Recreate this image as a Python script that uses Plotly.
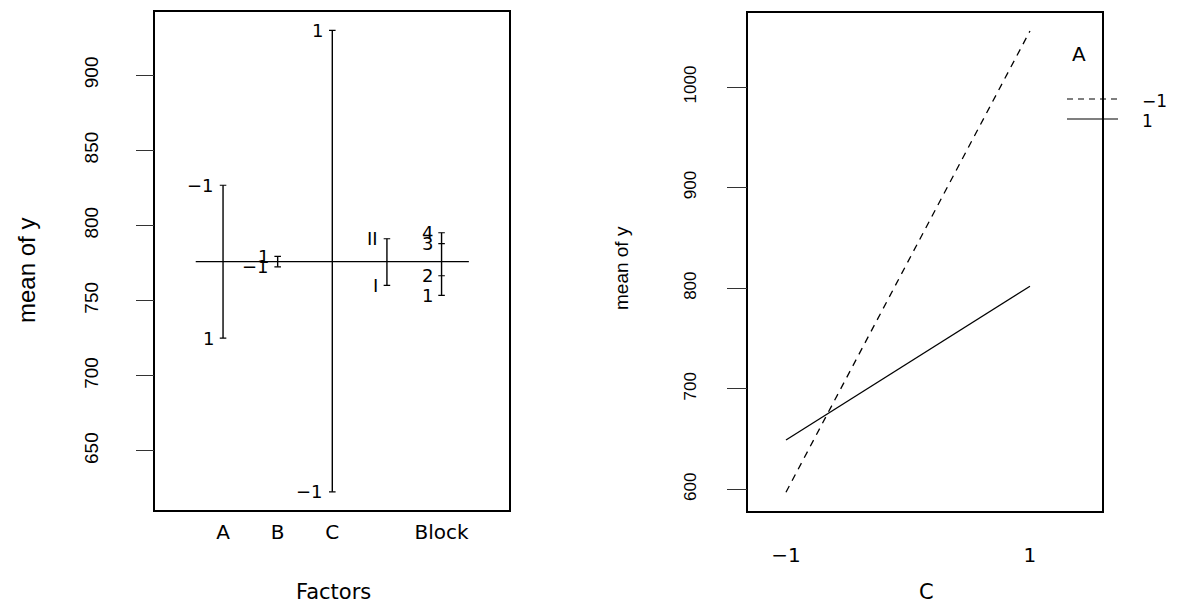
import plotly.graph_objects as go

# ---------------- data ----------------
# Left panel: plot.design of mean of y by factor levels
factor_names = ["A", "B", "C", "", "Block"]
A_levels = ["−1", "1"]
A_means = [826.8, 725.1]
B_levels = ["−1", "1"]
B_means = [772.5, 779.5]
C_levels = ["−1", "1"]
C_means = [622.8, 929.8]
D_levels = ["I", "II"]
D_means = [760.2, 791.2]
Block_levels = ["1", "2", "3", "4"]
Block_means = [753.5, 766.6, 787.9, 795.2]
grand_mean = 776.0
left_yticks = [650, 700, 750, 800, 850, 900]

# Right panel: interaction plot, C on x, trace factor A
C_values = [-1, 1]
C_labels = ["−1", "1"]
A_minus1_means = [597.1, 1055.8]
A_plus1_means = [649.1, 802.0]
right_yticks = [600, 700, 800, 900, 1000]
legend_title = "A"
legend_labels = ["−1", "1"]

# ---------------- layout helpers ----------------
W, H = 1177, 604
def px(x):
    return x / W
def py(y):
    return 1 - y / H

FONT = "Liberation Sans, Arial, Helvetica, sans-serif"
HFONT = "DejaVu Sans, Liberation Sans, sans-serif"

fig = go.Figure()

# ---------------- left panel ----------------
groups = [
    (A_levels, A_means),
    (B_levels, B_means),
    (C_levels, C_means),
    (D_levels, D_means),
    (Block_levels, Block_means),
]
vx, vy = [], []
tx, ty = [], []
annotations = []
for j, (levs, means) in enumerate(groups, start=1):
    vx += [j, j, None]
    vy += [min(means), max(means), None]
    for lev, m in zip(levs, means):
        tx += [j - 0.06, j + 0.06, None]
        ty += [m, m, None]
        annotations.append(dict(
            x=j, y=m, xref="x", yref="y", text=lev, showarrow=False,
            xanchor="right", yanchor="middle", xshift=-7,
            font=dict(family=HFONT, size=18, color="black")))

fig.add_trace(go.Scatter(x=[0.5, len(groups) + 0.5], y=[grand_mean, grand_mean],
                         mode="lines", line=dict(color="black", width=1.2),
                         xaxis="x", yaxis="y", showlegend=False, hoverinfo="skip"))
fig.add_trace(go.Scatter(x=vx, y=vy, mode="lines", line=dict(color="black", width=1.4),
                         xaxis="x", yaxis="y", showlegend=False, hoverinfo="skip"))
fig.add_trace(go.Scatter(x=tx, y=ty, mode="lines", line=dict(color="black", width=1.2),
                         xaxis="x", yaxis="y", showlegend=False, hoverinfo="skip"))

all_means = A_means + B_means + C_means + D_means + Block_means
lo, hi = min(all_means), max(all_means)
pad = 0.04 * (hi - lo)
left_yrange = [lo - pad, hi + pad]

# ---------------- right panel ----------------
fig.add_trace(go.Scatter(x=C_values, y=A_minus1_means, mode="lines",
                         line=dict(color="black", width=1.3, dash="7px,6px"),
                         xaxis="x2", yaxis="y2", showlegend=False, hoverinfo="skip"))
fig.add_trace(go.Scatter(x=C_values, y=A_plus1_means, mode="lines",
                         line=dict(color="black", width=1.3),
                         xaxis="x2", yaxis="y2", showlegend=False, hoverinfo="skip"))
rall = A_minus1_means + A_plus1_means
rlo, rhi = min(rall), max(rall)
rpad = 0.04 * (rhi - rlo)
right_yrange = [rlo - rpad, rhi + rpad]

# legend (manual, R style)
shapes = [
    dict(type="line", xref="paper", yref="paper", x0=px(1067), x1=px(1118),
         y0=py(99), y1=py(99), line=dict(color="black", width=1.2, dash="6px,5px")),
    dict(type="line", xref="paper", yref="paper", x0=px(1067), x1=px(1118),
         y0=py(119), y1=py(119), line=dict(color="black", width=1.2)),
]
annotations += [
    dict(x=px(1079), y=py(54), xref="paper", yref="paper", text=legend_title,
         showarrow=False, xanchor="center", yanchor="middle",
         font=dict(family=HFONT, size=20, color="black")),
    dict(x=px(1140), y=py(101), xref="paper", yref="paper", text=legend_labels[0],
         showarrow=False, xanchor="left", yanchor="middle",
         font=dict(family=HFONT, size=17, color="black")),
    dict(x=px(1140), y=py(121), xref="paper", yref="paper", text=legend_labels[1],
         showarrow=False, xanchor="left", yanchor="middle",
         font=dict(family=HFONT, size=17, color="black")),
]

# axis titles
annotations += [
    dict(x=px(26), y=py(271), xref="paper", yref="paper", text="mean of y",
         showarrow=False, textangle=-90, xanchor="center", yanchor="middle",
         font=dict(family=FONT, size=24, color="black")),
    dict(x=px(333), y=py(592), xref="paper", yref="paper", text="Factors",
         showarrow=False, xanchor="center", yanchor="middle",
         font=dict(family=HFONT, size=21, color="black")),
    dict(x=px(621), y=py(268), xref="paper", yref="paper", text="mean of y",
         showarrow=False, textangle=-90, xanchor="center", yanchor="middle",
         font=dict(family=FONT, size=19, color="black")),
    dict(x=px(926), y=py(592), xref="paper", yref="paper", text="C",
         showarrow=False, xanchor="center", yanchor="middle",
         font=dict(family=HFONT, size=21, color="black")),
]

box = dict(showline=True, mirror=True, linecolor="black", linewidth=1.6,
           showgrid=False, zeroline=False)

fig.update_layout(
    width=W, height=H,
    margin=dict(l=0, r=0, t=0, b=0),
    paper_bgcolor="white", plot_bgcolor="white",
    showlegend=False,
    xaxis=dict(domain=[px(155.3), px(509.3)], range=[-0.24, 6.24],
               tickmode="array", tickvals=[1, 2, 3, 4, 5], ticktext=factor_names,
               ticks="", ticklabelstandoff=3,
               tickfont=dict(family=HFONT, size=20, color="black"), anchor="y", **box),
    yaxis=dict(domain=[py(510.3), py(12)], range=left_yrange,
               tickmode="array", tickvals=left_yticks,
               ticks="outside", ticklen=18, tickcolor="#333", tickwidth=1.2,
               tickangle=-90, ticklabelstandoff=30,
               tickfont=dict(family=FONT, size=19, color="black"), anchor="x", **box),
    xaxis2=dict(domain=[px(748.3), px(1101.7)], range=[-1.309, 1.588],
                tickmode="array", tickvals=C_values, ticktext=C_labels,
                ticks="", ticklabelstandoff=25,
                tickfont=dict(family=HFONT, size=20, color="black"), anchor="y2", **box),
    yaxis2=dict(domain=[py(510.7), py(12.5)], range=right_yrange,
                tickmode="array", tickvals=right_yticks,
                ticks="outside", ticklen=20, tickcolor="#333", tickwidth=1.2,
                tickangle=-90, ticklabelstandoff=24,
                tickfont=dict(family=FONT, size=17, color="black"), anchor="x2", **box),
    shapes=shapes,
    annotations=annotations,
)

fig.write_html("out.html")
